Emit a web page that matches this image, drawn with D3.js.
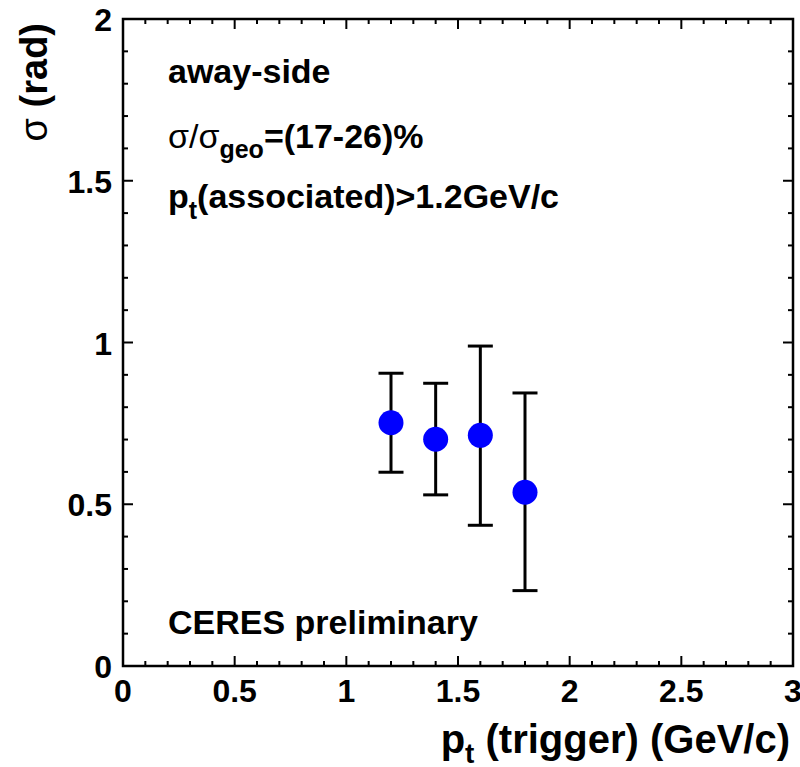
<!DOCTYPE html>
<html>
<head>
<meta charset="utf-8">
<script src="https://cdn.jsdelivr.net/npm/d3@7"></script>
<style>
  body { margin: 0; background: #fff; }
  svg { display: block; font-family: "Liberation Sans", Arial, Helvetica, sans-serif; font-weight: bold; }
</style>
</head>
<body>
<svg width="800" height="767"></svg>
<script>
// data
var ptTrigger = [1.2, 1.4, 1.6, 1.8];
var sigmaVal  = [0.752, 0.701, 0.713, 0.537];
var errHigh   = [0.905, 0.874, 0.989, 0.844];
var errLow    = [0.599, 0.529, 0.435, 0.233];

var xTicks = [0, 0.5, 1, 1.5, 2, 2.5, 3];
var xTickLabels = ["0", "0.5", "1", "1.5", "2", "2.5", "3"];
var yTicks = [0, 0.5, 1, 1.5, 2];
var yTickLabels = ["0", "0.5", "1", "1.5", "2"];

(function() {
  var svg = d3.select("svg");

  // frame edges (note: "top" is reserved on window, so use prefixed names)
  var fLeft = 123, fRight = 793, fTop = 19, fBottom = 666;

  var x = d3.scaleLinear().domain([0, 3]).range([fLeft, fRight]);
  var y = d3.scaleLinear().domain([0, 2]).range([fBottom, fTop]);

  var g = svg.append("g");

  // minor + major ticks on all four sides
  var xMinor = d3.range(0, 31).map(function(i) { return i / 10; });
  var yMinor = d3.range(0, 21).map(function(i) { return i / 10; });
  function isMajor(v) { return Math.abs(v * 2 - Math.round(v * 2)) < 1e-6; }

  var tickG = g.append("g").attr("stroke", "#000").attr("stroke-width", 2);

  xMinor.forEach(function(v) {
    var len = isMajor(v) ? 10 : 5;
    tickG.append("line").attr("x1", x(v)).attr("x2", x(v)).attr("y1", fBottom).attr("y2", fBottom - len);
    tickG.append("line").attr("x1", x(v)).attr("x2", x(v)).attr("y1", fTop).attr("y2", fTop + len);
  });
  yMinor.forEach(function(v) {
    var len = isMajor(v) ? 10 : 5;
    tickG.append("line").attr("x1", fLeft).attr("x2", fLeft + len).attr("y1", y(v)).attr("y2", y(v));
    tickG.append("line").attr("x1", fRight).attr("x2", fRight - len).attr("y1", y(v)).attr("y2", y(v));
  });

  // frame box
  g.append("rect")
    .attr("x", fLeft).attr("y", fTop)
    .attr("width", fRight - fLeft).attr("height", fBottom - fTop)
    .attr("fill", "none").attr("stroke", "#000").attr("stroke-width", 2.5);

  // tick labels
  g.selectAll(".xlab")
    .data(xTicks)
    .enter().append("text")
    .attr("x", function(d) { return x(d); })
    .attr("y", 702)
    .attr("text-anchor", "middle")
    .attr("font-size", 32)
    .text(function(d, i) { return xTickLabels[i]; });

  g.selectAll(".ylab")
    .data(yTicks)
    .enter().append("text")
    .attr("x", fLeft - 11)
    .attr("y", function(d) { return y(d) + 12; })
    .attr("text-anchor", "end")
    .attr("font-size", 32)
    .text(function(d, i) { return yTickLabels[i]; });

  // axis titles
  var xt = svg.append("text")
    .attr("x", 790).attr("y", 753)
    .attr("text-anchor", "end")
    .attr("font-size", 40);
  xt.append("tspan").text("p");
  xt.append("tspan").attr("font-size", 28).attr("dy", 10).text("t");
  xt.append("tspan").attr("dy", -10).text(" (trigger) (GeV/c)");

  var yt = svg.append("text")
    .attr("transform", "translate(47,23) rotate(-90)")
    .attr("text-anchor", "end")
    .attr("font-size", 38);
  yt.append("tspan").attr("font-weight", "normal").text("σ");
  yt.append("tspan").text(" (rad)");

  // annotations
  svg.append("text").attr("x", 168).attr("y", 83).attr("font-size", 34).text("away-side");

  var t2 = svg.append("text").attr("x", 168).attr("y", 148).attr("font-size", 34);
  t2.append("tspan").attr("font-weight", "normal").text("σ/σ");
  t2.append("tspan").attr("font-size", 25).attr("dy", 10).text("geo");
  t2.append("tspan").attr("dy", -10).text("=(17-26)%");

  var t3 = svg.append("text").attr("x", 168).attr("y", 208).attr("font-size", 34);
  t3.append("tspan").text("p");
  t3.append("tspan").attr("font-size", 25).attr("dy", 11).text("t");
  t3.append("tspan").attr("dy", -11).text("(associated)>1.2GeV/c");

  svg.append("text").attr("x", 168).attr("y", 634).attr("font-size", 34).text("CERES preliminary");

  // data: error bars + markers
  var pts = ptTrigger.map(function(p, i) {
    return { x: p, y: sigmaVal[i], hi: errHigh[i], lo: errLow[i] };
  });

  var eb = svg.append("g").attr("stroke", "#000").attr("stroke-width", 3);
  eb.selectAll(".v").data(pts).enter().append("line")
    .attr("x1", function(d) { return x(d.x); })
    .attr("x2", function(d) { return x(d.x); })
    .attr("y1", function(d) { return y(d.lo); })
    .attr("y2", function(d) { return y(d.hi); });
  eb.selectAll(".capH").data(pts).enter().append("line")
    .attr("x1", function(d) { return x(d.x) - 12.5; })
    .attr("x2", function(d) { return x(d.x) + 12.5; })
    .attr("y1", function(d) { return y(d.hi); })
    .attr("y2", function(d) { return y(d.hi); });
  eb.selectAll(".capL").data(pts).enter().append("line")
    .attr("x1", function(d) { return x(d.x) - 12.5; })
    .attr("x2", function(d) { return x(d.x) + 12.5; })
    .attr("y1", function(d) { return y(d.lo); })
    .attr("y2", function(d) { return y(d.lo); });

  svg.append("g").selectAll("circle")
    .data(pts)
    .enter().append("circle")
    .attr("cx", function(d) { return x(d.x); })
    .attr("cy", function(d) { return y(d.y); })
    .attr("r", 12.5)
    .attr("fill", "#0000ff");
})();
</script>
</body>
</html>
